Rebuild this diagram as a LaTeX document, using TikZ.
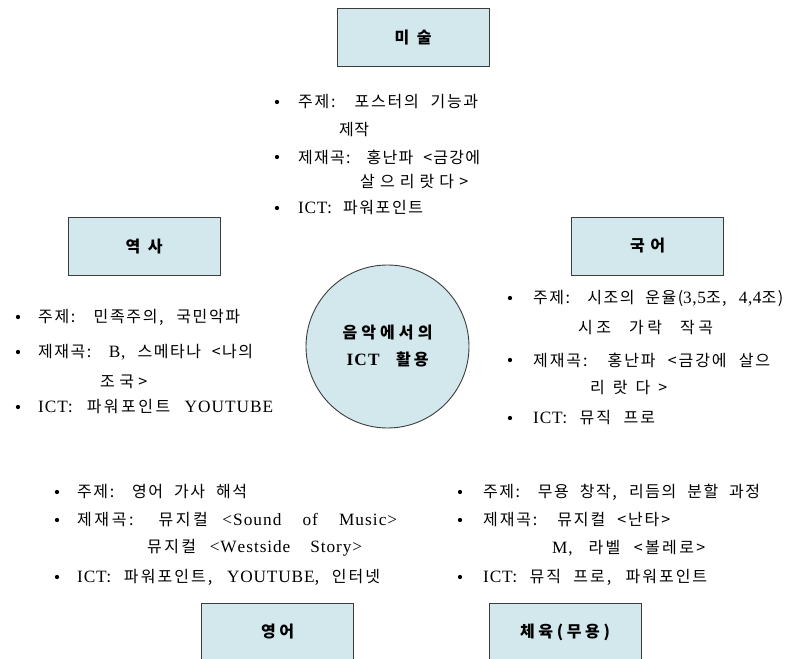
\documentclass[tikz,border=0pt]{standalone}
\usepackage{fontspec}
\setmainfont{Liberation Serif}
\newfontfamily\kr[WordSpace={1.5,2,1}]{Noto Sans CJK KR}
\newfontfamily\lat[Scale=1.08,WordSpace={1.5,2,1},LetterSpace=5]{Liberation Serif}
% inter-character glue so that each line can be spread to its width
\newXeTeXintercharclass\hangcls
\newXeTeXintercharclass\latcls
\newcount\cc
\cc="AC00
\loop \XeTeXcharclass\cc=\hangcls \ifnum\cc<"D7A3 \advance\cc 1 \repeat
\cc=`A
\loop \XeTeXcharclass\cc=\latcls \ifnum\cc<`Z \advance\cc 1 \repeat
\cc=`a
\loop \XeTeXcharclass\cc=\latcls \ifnum\cc<`z \advance\cc 1 \repeat
\cc=`0
\loop \XeTeXcharclass\cc=\latcls \ifnum\cc<`9 \advance\cc 1 \repeat
\XeTeXinterchartoks\hangcls\hangcls={\hskip0pt plus 1pt\relax}
\XeTeXinterchartoks\hangcls 0={\hskip0pt plus 1pt\relax}
\XeTeXinterchartoks 0\hangcls={\hskip0pt plus 1pt\relax}
\XeTeXinterchartoks\hangcls\latcls={\hskip0pt plus 1pt\relax}
\XeTeXinterchartoks\latcls\hangcls={\hskip0pt plus 1pt\relax}
\XeTeXinterchartoks\latcls\latcls={\hskip0pt plus 0.4pt\relax}
\XeTeXinterchartoks\latcls 0={\hskip0pt plus 0.4pt\relax}
\XeTeXinterchartoks 0\latcls={\hskip0pt plus 0.4pt\relax}
\newcommand\fitl[2]{\makebox[#1pt][s]{#2}}
\definecolor{boxblue}{RGB}{210,232,237}
\definecolor{edge}{RGB}{60,60,60}
\tikzset{
  subj/.style={draw=edge, line width=0.9pt, fill=boxblue, minimum width=152pt, minimum height=58pt,
    inner sep=0pt, font=\kr\bfseries\fontsize{16}{16}\selectfont},
  hub/.style={circle, draw=edge, line width=0.9pt, fill=boxblue, minimum size=163pt, inner sep=0pt,
    align=center, font=\kr\bfseries\fontsize{16}{27}\selectfont},
  txt/.style={anchor=west, inner sep=0pt, font=\kr\fontsize{16}{16}\selectfont},
  bul/.style={circle, fill=black, inner sep=0pt, minimum size=4.3pt}
}
\begin{document}
\XeTeXinterchartokenstate=1\relax
\begin{tikzpicture}[x=1pt,y=1pt]
\useasboundingbox (0,0) rectangle (785,659);
\clip (0,0) rectangle (785,659);
% subject boxes
\node[subj] (art) at (413,621.5) {\fitl{37}{미술}};
\node[subj] (hist) at (144,412.5) {\fitl{37}{역사}};
\node[subj] (kor) at (647.5,413) {\fitl{35}{국어}};
\node[subj] (eng) at (277.5,27) {\fitl{33}{영어}};
\node[subj] (pe) at (565,27) {\fitl{90}{체육(무용)}};
% hub
\node[hub] (hubc) at (387.5,312.5) {\fitl{90}{음악에서의}\\\fitl{82}{{\lat\bfseries ICT} 활용}};
% top list (art)
\node[bul] (ab1) at (277,557) {};
\node[txt] (a1) at (298,557) {\fitl{180}{주제: 포스터의 기능과}};
\node[txt] (a2) at (339,529) {\fitl{30}{제작}};
\node[bul] (ab2) at (277,502) {};
\node[txt] (a3) at (298,502) {\fitl{182}{제재곡: 홍난파 <금강에}};
\node[txt] (a4) at (360,477) {\fitl{108}{살으리랏다>}};
\node[bul] (ab3) at (277,451) {};
\node[txt] (a5) at (298,451) {\fitl{125}{{\lat ICT}: 파워포인트}};
% left list (history)
\node[bul] (hb1) at (18,342) {};
\node[txt] (h1) at (38,342) {\fitl{202}{주제: 민족주의, 국민악파}};
\node[bul] (hb2) at (18,307) {};
\node[txt] (h2) at (38,307) {\fitl{215}{제재곡: {\lat B,} 스메타나 <나의}};
\node[txt] (h3) at (100,277) {\fitl{47}{조국>}};
\node[bul] (hb3) at (18,252) {};
\node[txt] (h4) at (38,252) {\fitl{235}{{\lat ICT}: 파워포인트 {\lat YOUTUBE}}};
% right list (korean)
\node[bul] (kb1) at (510,361) {};
\node[txt] (k1) at (533,361) {\fitl{250}{주제: 시조의 운율({\lat 3,5}조, {\lat 4,4}조)}};
\node[txt] (k2) at (578,331) {\fitl{135}{시조 가락 작곡}};
\node[bul] (kb2) at (510,299) {};
\node[txt] (k3) at (533,299) {\fitl{237}{제재곡: 홍난파 <금강에 살으}};
\node[txt] (k4) at (590,271) {\fitl{77}{리랏다>}};
\node[bul] (kb3) at (510,241) {};
\node[txt] (k5) at (533,241) {\fitl{122}{{\lat ICT}: 뮤직 프로}};
% bottom-left list (english)
\node[bul] (eb1) at (57,167) {};
\node[txt] (e1) at (77,167) {\fitl{170}{주제: 영어 가사 해석}};
\node[bul] (eb2) at (57,139) {};
\node[txt] (e2) at (77,139) {\fitl{320}{제재곡: 뮤지컬 {\lat <Sound of Music>}}};
\node[txt] (e3) at (147,111) {\fitl{215}{뮤지컬 {\lat <Westside Story>}}};
\node[bul] (eb3) at (57,82) {};
\node[txt] (e4) at (77,82) {\fitl{303}{{\lat ICT}: 파워포인트, {\lat YOUTUBE}, 인터넷}};
% bottom-right list (pe)
\node[bul] (pb1) at (460,167) {};
\node[txt] (p1) at (483,167) {\fitl{277}{주제: 무용 창작, 리듬의 분할 과정}};
\node[bul] (pb2) at (460,139) {};
\node[txt] (p2) at (483,139) {\fitl{187}{제재곡: 뮤지컬 <난타>}};
\node[txt] (p3) at (552,111) {\fitl{153}{{\lat M,} 라벨 <볼레로>}};
\node[bul] (pb3) at (460,82) {};
\node[txt] (p4) at (483,82) {\fitl{224}{{\lat ICT}: 뮤직 프로, 파워포인트}};
\end{tikzpicture}
\end{document}
